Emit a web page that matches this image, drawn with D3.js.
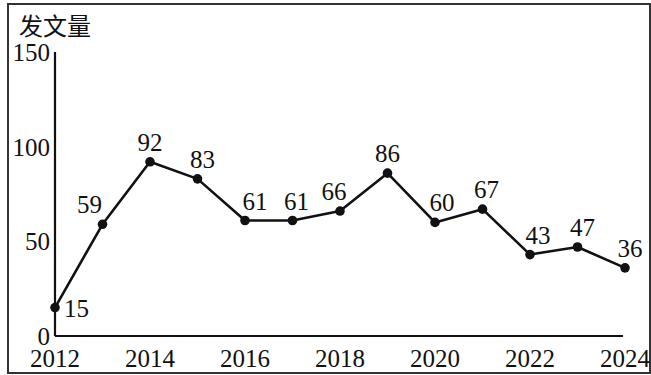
<!DOCTYPE html>
<html>
<head>
<meta charset="utf-8">
<script src="https://cdn.jsdelivr.net/npm/d3@7"></script>
<style>
  html, body { margin: 0; padding: 0; background: #fff; }
</style>
</head>
<body>
<div id="chart"></div>
<script>
var years = [2012, 2013, 2014, 2015, 2016, 2017, 2018, 2019, 2020, 2021, 2022, 2023, 2024];
var counts = [15, 59, 92, 83, 61, 61, 66, 86, 60, 67, 43, 47, 36];
var yTicks = [0, 50, 100, 150];
var xTicks = [2012, 2014, 2016, 2018, 2020, 2022, 2024];
var yTitle = '发文量';

// little sideways nudges so the labels sit where they do in the print
var labelDx = [0, -13, 0, 5, 10, 4, -6, 0, 7, 4, 8, 5, 5];

var SERIF = "'Liberation Serif', 'DejaVu Serif', 'Times New Roman', serif";

var width = 651, height = 375;
var svg = d3.select('#chart').append('svg')
            .attr('width', width).attr('height', height)
            .attr('font-family', SERIF);

svg.append('rect')
   .attr('x', 8).attr('y', 4)
   .attr('width', 642).attr('height', 369)
   .attr('fill', 'none').attr('stroke', '#333').attr('stroke-width', 2);

var x = d3.scaleLinear().domain([2012, 2024]).range([55, 625]);
var y = d3.scaleLinear().domain([0, 150]).range([336, 52]);

// axes, no tick marks, just the lines
svg.append('line')
   .attr('x1', x(2012)).attr('x2', 623)
   .attr('y1', y(0)).attr('y2', y(0))
   .attr('stroke', '#111').attr('stroke-width', 2.2);
svg.append('line')
   .attr('x1', x(2012)).attr('x2', x(2012))
   .attr('y1', y(0)).attr('y2', y(150))
   .attr('stroke', '#111').attr('stroke-width', 2.2);

svg.append('g').selectAll('text').data(yTicks).enter()
   .append('text')
   .attr('x', 50)
   .attr('y', function(d) { return y(d) + 9; })
   .attr('text-anchor', 'end')
   .attr('font-size', 25)
   .attr('fill', '#111')
   .text(function(d) { return d; });

svg.append('g').selectAll('text').data(xTicks).enter()
   .append('text')
   .attr('x', function(d) { return x(d); })
   .attr('y', 367)
   .attr('text-anchor', 'middle')
   .attr('font-size', 25)
   .attr('fill', '#111')
   .text(function(d) { return d; });

svg.append('text')
   .attr('x', 19).attr('y', 35)
   .attr('font-size', 24)
   .attr('fill', '#111')
   .attr('font-family', "'Noto Sans CJK SC', sans-serif")
   .text(yTitle);

var line = d3.line()
             .x(function(d, i) { return x(years[i]); })
             .y(function(d) { return y(d); });

svg.append('path')
   .attr('d', line(counts))
   .attr('fill', 'none')
   .attr('stroke', '#111')
   .attr('stroke-width', 2.6)
   .attr('stroke-linejoin', 'round');

svg.append('g').selectAll('circle').data(counts).enter()
   .append('circle')
   .attr('cx', function(d, i) { return x(years[i]); })
   .attr('cy', function(d) { return y(d); })
   .attr('r', 4.8)
   .attr('fill', '#111');

svg.append('g').selectAll('text').data(counts).enter()
   .append('text')
   .attr('x', function(d, i) {
       if (i === 0) return x(years[i]) + 9;
       return x(years[i]) + labelDx[i];
   })
   .attr('y', function(d, i) {
       if (i === 0) return y(d) + 9;
       return y(d) - 11;
   })
   .attr('text-anchor', function(d, i) { return i === 0 ? 'start' : 'middle'; })
   .attr('font-size', 25)
   .attr('fill', '#111')
   .text(function(d) { return d; });
</script>
</body>
</html>
